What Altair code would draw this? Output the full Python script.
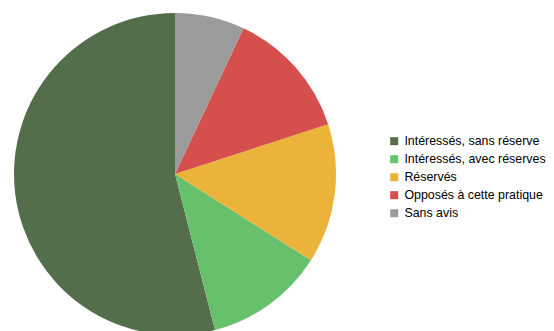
import altair as alt
import pandas as pd

categories = ["Intéressés, sans réserve", "Intéressés, avec réserves", "Réservés",
              "Opposés à cette pratique", "Sans avis"]
values = [54, 12, 14, 13, 7]
colors = ["#546E4B", "#67C06B", "#EBB33A", "#D5504D", "#9B9B9B"]
draw_order = [5, 4, 3, 2, 1]

df = pd.DataFrame({"cat": categories, "val": values, "ord": draw_order})

chart = alt.Chart(df).mark_arc(outerRadius=161, x=167, y=166).encode(
    theta=alt.Theta("val:Q", stack=True),
    order=alt.Order("ord:Q", sort="ascending"),
    color=alt.Color(
        "cat:N",
        scale=alt.Scale(domain=categories, range=colors),
        legend=alt.Legend(
            title=None,
            orient="none",
            legendX=380,
            legendY=127,
            symbolType="square",
            symbolSize=64,
            symbolStrokeWidth=0,
            labelFont="Liberation Sans",
            labelFontSize=12.4,
            labelColor="#000000",
            labelOffset=4,
            labelLimit=300,
            rowPadding=5,
        ),
    ),
).properties(
    width=538, height=400, padding=0, autosize=alt.AutoSizeParams(type="none")
).configure_view(stroke=None)

chart.save("out.html", embed_options={"renderer": "svg", "actions": False})
